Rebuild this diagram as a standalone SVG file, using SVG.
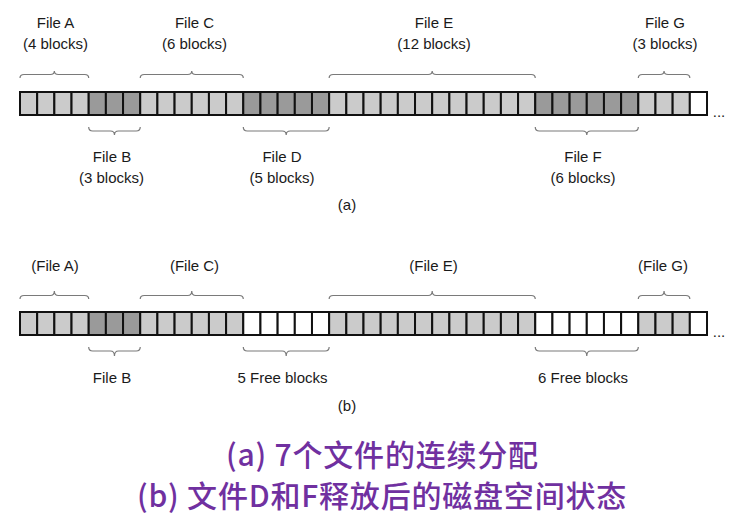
<svg xmlns="http://www.w3.org/2000/svg" width="735" height="523" viewBox="0 0 735 523">
<style>
.lbl{font-family:"Liberation Sans",Arial,sans-serif;font-size:15px;fill:#1a1a1a;text-anchor:middle}
.cap{font-family:"Noto Sans CJK SC",sans-serif;font-size:30px;font-weight:500;fill:#7030a0;text-anchor:middle;letter-spacing:0.8px}
.blk rect{stroke:#111;stroke-width:2}
.l{fill:#cbcbcb}.d{fill:#9a9a9a}.w{fill:#ffffff}
.br{fill:none;stroke:#7a7a7a;stroke-width:1.2}
</style>
<rect width="735" height="523" fill="#ffffff"/>

<g id="row-a" class="blk">
<rect class="l" x="20" y="92" width="17.18" height="23"/>
<rect class="l" x="37.18" y="92" width="17.18" height="23"/>
<rect class="l" x="54.35" y="92" width="17.18" height="23"/>
<rect class="l" x="71.53" y="92" width="17.18" height="23"/>
<rect class="d" x="88.7" y="92" width="17.18" height="23"/>
<rect class="d" x="105.88" y="92" width="17.18" height="23"/>
<rect class="d" x="123.05" y="92" width="17.18" height="23"/>
<rect class="l" x="140.23" y="92" width="17.18" height="23"/>
<rect class="l" x="157.4" y="92" width="17.18" height="23"/>
<rect class="l" x="174.58" y="92" width="17.18" height="23"/>
<rect class="l" x="191.75" y="92" width="17.18" height="23"/>
<rect class="l" x="208.93" y="92" width="17.18" height="23"/>
<rect class="l" x="226.1" y="92" width="17.18" height="23"/>
<rect class="d" x="243.28" y="92" width="17.18" height="23"/>
<rect class="d" x="260.45" y="92" width="17.18" height="23"/>
<rect class="d" x="277.63" y="92" width="17.18" height="23"/>
<rect class="d" x="294.8" y="92" width="17.18" height="23"/>
<rect class="d" x="311.98" y="92" width="17.18" height="23"/>
<rect class="l" x="329.15" y="92" width="17.18" height="23"/>
<rect class="l" x="346.33" y="92" width="17.18" height="23"/>
<rect class="l" x="363.5" y="92" width="17.18" height="23"/>
<rect class="l" x="380.68" y="92" width="17.18" height="23"/>
<rect class="l" x="397.85" y="92" width="17.18" height="23"/>
<rect class="l" x="415.03" y="92" width="17.18" height="23"/>
<rect class="l" x="432.2" y="92" width="17.18" height="23"/>
<rect class="l" x="449.38" y="92" width="17.18" height="23"/>
<rect class="l" x="466.55" y="92" width="17.18" height="23"/>
<rect class="l" x="483.73" y="92" width="17.18" height="23"/>
<rect class="l" x="500.9" y="92" width="17.18" height="23"/>
<rect class="l" x="518.08" y="92" width="17.18" height="23"/>
<rect class="d" x="535.25" y="92" width="17.18" height="23"/>
<rect class="d" x="552.43" y="92" width="17.18" height="23"/>
<rect class="d" x="569.6" y="92" width="17.18" height="23"/>
<rect class="d" x="586.78" y="92" width="17.18" height="23"/>
<rect class="d" x="603.95" y="92" width="17.18" height="23"/>
<rect class="d" x="621.13" y="92" width="17.18" height="23"/>
<rect class="l" x="638.3" y="92" width="17.18" height="23"/>
<rect class="l" x="655.48" y="92" width="17.18" height="23"/>
<rect class="l" x="672.65" y="92" width="17.18" height="23"/>
<rect class="w" x="689.83" y="92" width="17.18" height="23"/>
</g>
<text class="lbl" x="719" y="117">...</text>

<g id="row-b" class="blk">
<rect class="l" x="20" y="312" width="17.18" height="23"/>
<rect class="l" x="37.18" y="312" width="17.18" height="23"/>
<rect class="l" x="54.35" y="312" width="17.18" height="23"/>
<rect class="l" x="71.53" y="312" width="17.18" height="23"/>
<rect class="d" x="88.7" y="312" width="17.18" height="23"/>
<rect class="d" x="105.88" y="312" width="17.18" height="23"/>
<rect class="d" x="123.05" y="312" width="17.18" height="23"/>
<rect class="l" x="140.23" y="312" width="17.18" height="23"/>
<rect class="l" x="157.4" y="312" width="17.18" height="23"/>
<rect class="l" x="174.58" y="312" width="17.18" height="23"/>
<rect class="l" x="191.75" y="312" width="17.18" height="23"/>
<rect class="l" x="208.93" y="312" width="17.18" height="23"/>
<rect class="l" x="226.1" y="312" width="17.18" height="23"/>
<rect class="w" x="243.28" y="312" width="17.18" height="23"/>
<rect class="w" x="260.45" y="312" width="17.18" height="23"/>
<rect class="w" x="277.63" y="312" width="17.18" height="23"/>
<rect class="w" x="294.8" y="312" width="17.18" height="23"/>
<rect class="w" x="311.98" y="312" width="17.18" height="23"/>
<rect class="l" x="329.15" y="312" width="17.18" height="23"/>
<rect class="l" x="346.33" y="312" width="17.18" height="23"/>
<rect class="l" x="363.5" y="312" width="17.18" height="23"/>
<rect class="l" x="380.68" y="312" width="17.18" height="23"/>
<rect class="l" x="397.85" y="312" width="17.18" height="23"/>
<rect class="l" x="415.03" y="312" width="17.18" height="23"/>
<rect class="l" x="432.2" y="312" width="17.18" height="23"/>
<rect class="l" x="449.38" y="312" width="17.18" height="23"/>
<rect class="l" x="466.55" y="312" width="17.18" height="23"/>
<rect class="l" x="483.73" y="312" width="17.18" height="23"/>
<rect class="l" x="500.9" y="312" width="17.18" height="23"/>
<rect class="l" x="518.08" y="312" width="17.18" height="23"/>
<rect class="w" x="535.25" y="312" width="17.18" height="23"/>
<rect class="w" x="552.43" y="312" width="17.18" height="23"/>
<rect class="w" x="569.6" y="312" width="17.18" height="23"/>
<rect class="w" x="586.78" y="312" width="17.18" height="23"/>
<rect class="w" x="603.95" y="312" width="17.18" height="23"/>
<rect class="w" x="621.13" y="312" width="17.18" height="23"/>
<rect class="l" x="638.3" y="312" width="17.18" height="23"/>
<rect class="l" x="655.48" y="312" width="17.18" height="23"/>
<rect class="l" x="672.65" y="312" width="17.18" height="23"/>
<rect class="w" x="689.83" y="312" width="17.18" height="23"/>
</g>
<text class="lbl" x="719" y="337">...</text>

<g id="braces" class="br">
<!-- row a, top -->
<path d="M20,78 Q20,74.5 24,74.5 L50.35,74.5 Q54.35,74.5 54.35,71 Q54.35,74.5 58.35,74.5 L84.7,74.5 Q88.7,74.5 88.7,78"/>
<path d="M140.23,78 Q140.23,74.5 144.23,74.5 L187.75,74.5 Q191.75,74.5 191.75,71 Q191.75,74.5 195.75,74.5 L239.28,74.5 Q243.28,74.5 243.28,78"/>
<path d="M329.15,78 Q329.15,74.5 333.15,74.5 L428.2,74.5 Q432.2,74.5 432.2,71 Q432.2,74.5 436.2,74.5 L531.25,74.5 Q535.25,74.5 535.25,78"/>
<path d="M638.3,78 Q638.3,74.5 642.3,74.5 L660.06,74.5 Q664.06,74.5 664.06,71 Q664.06,74.5 668.06,74.5 L685.83,74.5 Q689.83,74.5 689.83,78"/>
<!-- row a, bottom -->
<path d="M88.7,127 Q88.7,131 92.7,131 L110.46,131 Q114.46,131 114.46,135 Q114.46,131 118.46,131 L136.23,131 Q140.23,131 140.23,127"/>
<path d="M243.28,127 Q243.28,131 247.28,131 L282.2,131 Q286.2,131 286.2,135 Q286.2,131 290.2,131 L325.15,131 Q329.15,131 329.15,127"/>
<path d="M535.25,127 Q535.25,131 539.25,131 L582.78,131 Q586.78,131 586.78,135 Q586.78,131 590.78,131 L634.3,131 Q638.3,131 638.3,127"/>
<!-- row b, top -->
<path d="M20,299 Q20,295.5 24,295.5 L50.35,295.5 Q54.35,295.5 54.35,291 Q54.35,295.5 58.35,295.5 L84.7,295.5 Q88.7,295.5 88.7,299"/>
<path d="M140.23,299 Q140.23,295.5 144.23,295.5 L187.75,295.5 Q191.75,295.5 191.75,291 Q191.75,295.5 195.75,295.5 L239.28,295.5 Q243.28,295.5 243.28,299"/>
<path d="M329.15,299 Q329.15,295.5 333.15,295.5 L428.2,295.5 Q432.2,295.5 432.2,291 Q432.2,295.5 436.2,295.5 L531.25,295.5 Q535.25,295.5 535.25,299"/>
<path d="M638.3,299 Q638.3,295.5 642.3,295.5 L660.06,295.5 Q664.06,295.5 664.06,291 Q664.06,295.5 668.06,295.5 L685.83,295.5 Q689.83,295.5 689.83,299"/>
<!-- row b, bottom -->
<path d="M88.7,347 Q88.7,351 92.7,351 L110.46,351 Q114.46,351 114.46,356 Q114.46,351 118.46,351 L136.23,351 Q140.23,351 140.23,347"/>
<path d="M243.28,347 Q243.28,351 247.28,351 L282.2,351 Q286.2,351 286.2,356 Q286.2,351 290.2,351 L325.15,351 Q329.15,351 329.15,347"/>
<path d="M535.25,347 Q535.25,351 539.25,351 L582.78,351 Q586.78,351 586.78,356 Q586.78,351 590.78,351 L634.3,351 Q638.3,351 638.3,347"/>
</g>

<g id="labels-a">
<text class="lbl" x="55.5" y="28">File A</text>
<text class="lbl" x="55.5" y="49">(4 blocks)</text>
<text class="lbl" x="194.5" y="28">File C</text>
<text class="lbl" x="194.5" y="49">(6 blocks)</text>
<text class="lbl" x="434" y="28">File E</text>
<text class="lbl" x="434" y="49">(12 blocks)</text>
<text class="lbl" x="665" y="28">File G</text>
<text class="lbl" x="665" y="49">(3 blocks)</text>
<text class="lbl" x="112" y="162">File B</text>
<text class="lbl" x="111.5" y="183">(3 blocks)</text>
<text class="lbl" x="282" y="162">File D</text>
<text class="lbl" x="282" y="183">(5 blocks)</text>
<text class="lbl" x="583" y="162">File F</text>
<text class="lbl" x="583" y="183">(6 blocks)</text>
<text class="lbl" x="347" y="210">(a)</text>
</g>

<g id="labels-b">
<text class="lbl" x="55" y="271">(File A)</text>
<text class="lbl" x="194.5" y="271">(File C)</text>
<text class="lbl" x="433.5" y="271">(File E)</text>
<text class="lbl" x="663" y="271">(File G)</text>
<text class="lbl" x="112" y="383">File B</text>
<text class="lbl" x="282.5" y="383">5 Free blocks</text>
<text class="lbl" x="583" y="383">6 Free blocks</text>
<text class="lbl" x="347" y="411">(b)</text>
</g>

<g id="caption">
<text class="cap" x="382.5" y="466">(a) 7个文件的连续分配</text>
<text class="cap" x="382" y="507">(b) 文件D和F释放后的磁盘空间状态</text>
</g>
</svg>
